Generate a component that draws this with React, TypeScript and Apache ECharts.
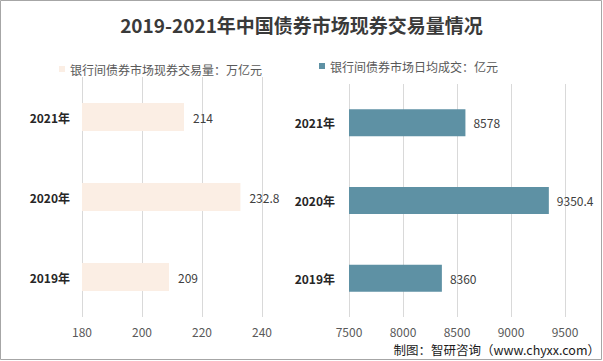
import React, { useEffect, useRef } from "react";
import * as echarts from "echarts";

const categories = ["2019年", "2020年", "2021年"];
const volumeValues = [209, 232.8, 214];
const dailyValues = [8360, 9350.4, 8578];
const titleText = "2019-2021年中国债券市场现券交易量情况";
const leftLegend = "银行间债券市场现券交易量：万亿元";
const rightLegend = "银行间债券市场日均成交：亿元";
const footerText = "制图：智研咨询（www.chyxx.com）";

export default function App() {
  const ref = useRef<HTMLDivElement>(null);
  useEffect(() => {
    document.body.style.margin = "0";
    const chart = echarts.init(ref.current!, null, { renderer: "svg" });
    const font = "'Microsoft YaHei', 'Noto Sans CJK SC', 'Noto Sans', sans-serif";
    const catLabel = { fontSize: 12, fontWeight: "bold" as const, color: "#262626", fontFamily: font };
    const valLabel = {
      fontSize: 12,
      color: "#595959",
      fontFamily: font,
      formatter: (v: number) => String(v),
    };
    chart.setOption({
      animation: false,
      backgroundColor: "#ffffff",
      title: {
        text: titleText,
        left: "center",
        top: 10,
        textStyle: { fontSize: 19, fontWeight: "bold", color: "#3a3a3a", fontFamily: font },
      },
      legend: [
        {
          data: [leftLegend],
          left: 59,
          top: 63,
          padding: 0,
          icon: "rect",
          itemWidth: 6,
          itemHeight: 6,
          textStyle: { fontSize: 12, color: "#595959", fontFamily: font },
        },
        {
          data: [rightLegend],
          left: 319,
          top: 60,
          padding: 0,
          icon: "rect",
          itemWidth: 6,
          itemHeight: 6,
          textStyle: { fontSize: 12, color: "#595959", fontFamily: font },
        },
      ],
      grid: [
        { left: 82, width: 180, top: 77, height: 240 },
        { left: 349, width: 216, top: 84, height: 233 },
      ],
      xAxis: [
        {
          type: "value",
          gridIndex: 0,
          min: 180,
          max: 240,
          interval: 20,
          axisLine: { show: false },
          axisTick: { show: false },
          axisLabel: { ...valLabel, margin: 8 },
          splitLine: { lineStyle: { color: "#d9d9d9" } },
        },
        {
          type: "value",
          gridIndex: 1,
          min: 7500,
          max: 9500,
          interval: 500,
          axisLine: { show: false },
          axisTick: { show: false },
          axisLabel: { ...valLabel, margin: 8 },
          splitLine: { lineStyle: { color: "#d9d9d9" } },
        },
      ],
      yAxis: [
        {
          type: "category",
          gridIndex: 0,
          data: categories,
          axisLine: { show: false },
          axisTick: { show: false },
          axisLabel: { ...catLabel, margin: 12 },
        },
        {
          type: "category",
          gridIndex: 1,
          data: categories,
          axisLine: { show: false },
          axisTick: { show: false },
          axisLabel: { ...catLabel, margin: 14 },
        },
      ],
      series: [
        {
          name: leftLegend,
          type: "bar",
          xAxisIndex: 0,
          yAxisIndex: 0,
          data: volumeValues,
          barWidth: 28,
          itemStyle: { color: "#fbeee4" },
          label: { show: true, position: "right", distance: 9, fontSize: 12, color: "#404040", fontFamily: font },
        },
        {
          name: rightLegend,
          type: "bar",
          xAxisIndex: 1,
          yAxisIndex: 1,
          data: dailyValues,
          barWidth: 27,
          itemStyle: { color: "#5e91a4" },
          label: { show: true, position: "right", distance: 8, fontSize: 12, color: "#404040", fontFamily: font },
        },
      ],
      graphic: [
        {
          type: "rect",
          shape: { x: 0.5, y: 0.5, width: 601, height: 359 },
          style: { fill: "none", stroke: "#a6a6a6", lineWidth: 1 },
          silent: true,
        },
        {
          type: "text",
          right: 3,
          top: 343,
          style: { text: footerText, fontSize: 12.5, fill: "#1a1a1a", fontFamily: font },
        },
      ],
    });
    return () => chart.dispose();
  }, []);
  return <div ref={ref} style={{ width: 603, height: 361 }} />;
}
